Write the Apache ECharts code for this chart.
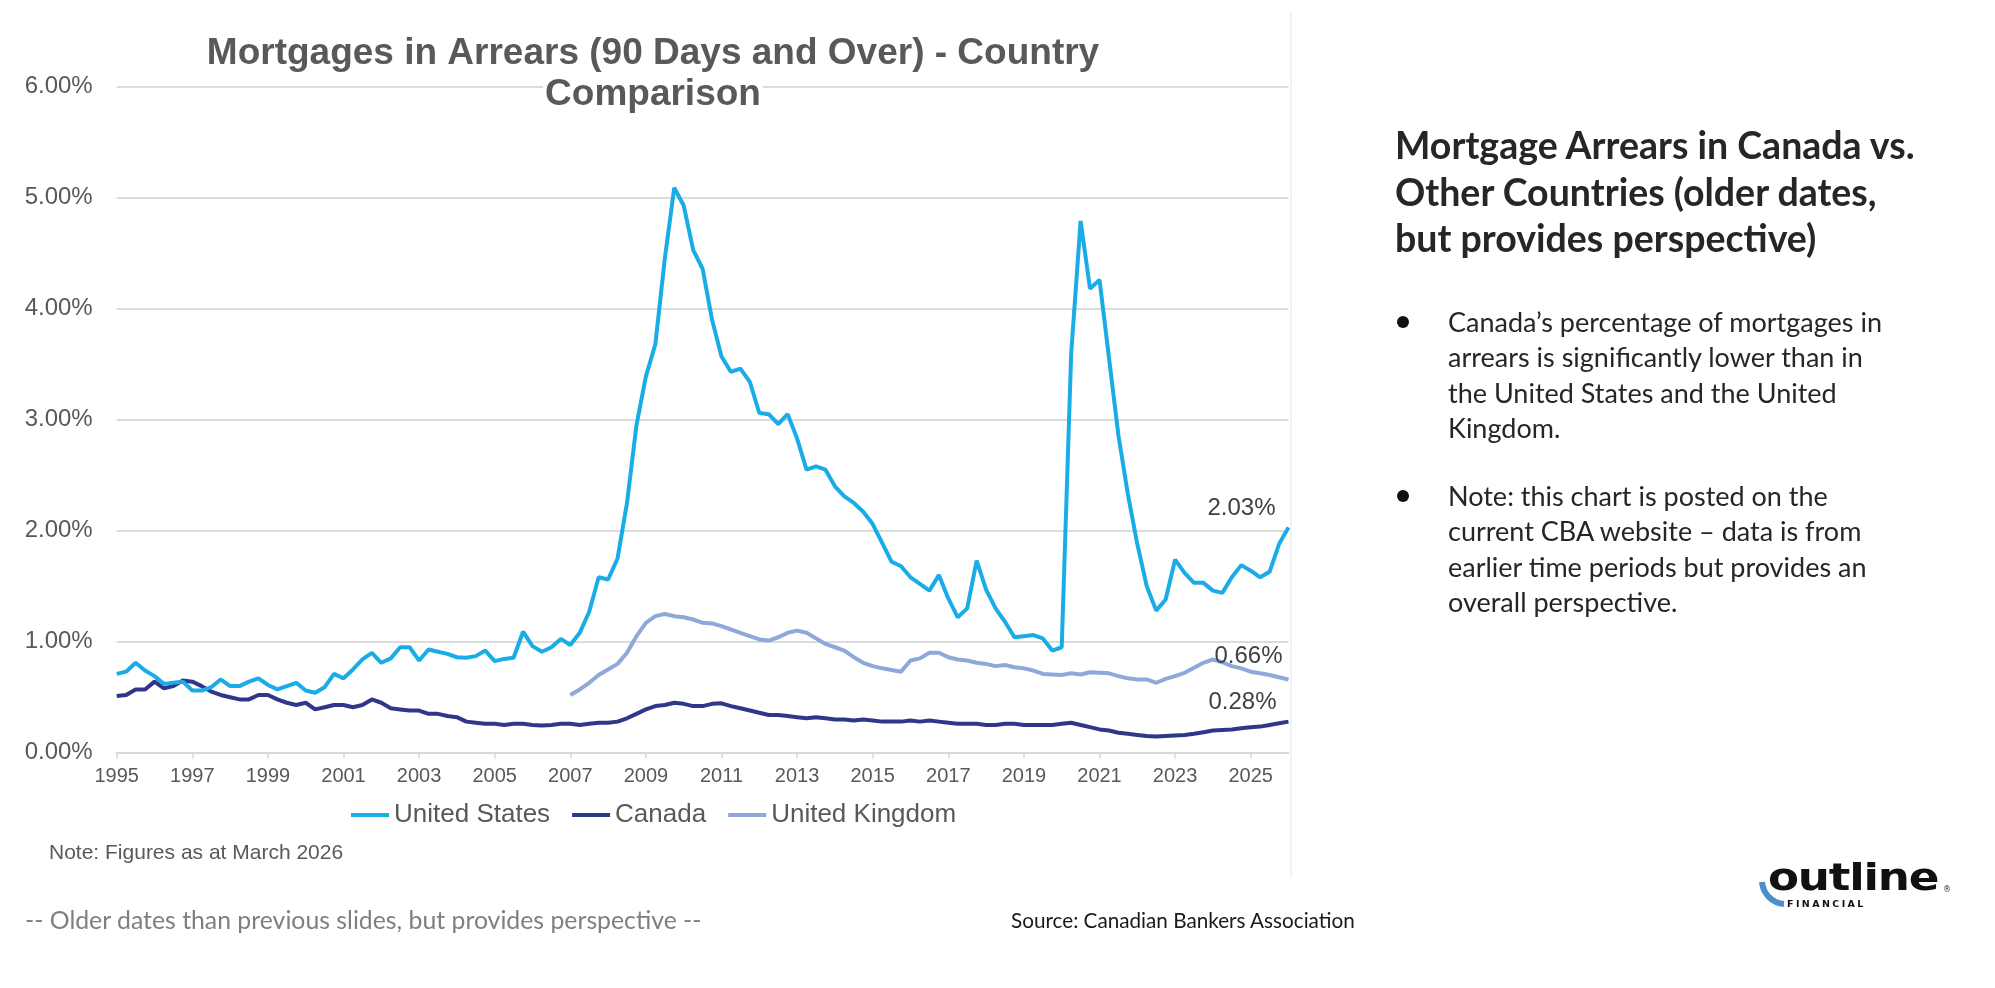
<!DOCTYPE html>
<html>
<head>
<meta charset="utf-8">
<script src="https://cdn.jsdelivr.net/npm/echarts@6/dist/echarts.min.js"></script>
<style>
  html, body { margin: 0; padding: 0; background: #ffffff; }
  #wrap { position: relative; width: 1995px; height: 988px; overflow: hidden; background: #fff; }
  #chart { position: absolute; left: 0; top: 0; width: 1995px; height: 988px; }
  .txt { position: absolute; font-family: Lato, "Open Sans", sans-serif; white-space: nowrap; }
  #heading { left: 1395px; top: 122px; font-size: 37.5px; font-weight: 700; line-height: 46.5px; color: #262626; }
  .bul { left: 1448px; font-size: 27px; line-height: 35.3px; color: #262626; }
  .dot { position: absolute; width: 12px; height: 12px; border-radius: 50%; background: #111; }
  #foot1 { left: 25px; top: 905px; font-size: 24.8px; color: #7f7f7f; }
  #foot2 { left: 1011px; top: 908px; font-size: 20.7px; color: #1a1a1a; }
</style>
</head>
<body>
<div id="wrap">
  <div id="chart"></div>
  <div class="txt" id="heading">Mortgage Arrears in Canada vs.<br>Other Countries (older dates,<br>but provides perspective)</div>
  <div class="dot" style="left:1397px; top:316px;"></div>
  <div class="txt bul" style="top:304px;">Canada’s percentage of mortgages in<br>arrears is significantly lower than in<br>the United States and the United<br>Kingdom.</div>
  <div class="dot" style="left:1397px; top:490px;"></div>
  <div class="txt bul" style="top:478px;">Note: this chart is posted on the<br>current CBA website – data is from<br>earlier time periods but provides an<br>overall perspective.</div>
  <div class="txt" id="foot1">-- Older dates than previous slides, but provides perspective --</div>
  <div class="txt" id="foot2">Source: Canadian Bankers Association</div>
  <svg style="position:absolute; left:1740px; top:840px;" width="250" height="80">
    <path d="M 22 42 A 24 24 0 0 0 44 64" fill="none" stroke="#4d8fca" stroke-width="6"/>
    <text x="28" y="50" font-family="DejaVu Sans" font-weight="700" font-size="38" fill="#111" transform="translate(28,0) scale(1.19,1) translate(-28,0)" letter-spacing="-1">outline</text>
    <text x="203" y="52" font-family="DejaVu Sans" font-size="8" fill="#333">®</text>
    <text x="47" y="67" font-family="DejaVu Sans" font-weight="700" font-size="9.5" letter-spacing="2.4" fill="#111">FINANCIAL</text>
  </svg>
</div>
<script>
// ---- data (quarterly, 1995 Q1 .. 2026 Q1) ----
const startYear = 1995;
const endYear = 2026;
const seriesNames = ['United States', 'Canada', 'United Kingdom'];

const usValues = [
  0.71, 0.73, 0.81, 0.74,   // 1995
  0.69, 0.62, 0.63, 0.64,   // 1996
  0.56, 0.56, 0.59, 0.66,   // 1997
  0.60, 0.60, 0.64, 0.67,   // 1998
  0.61, 0.57, 0.60, 0.63,   // 1999
  0.56, 0.54, 0.59, 0.71,   // 2000
  0.67, 0.75, 0.84, 0.90,   // 2001
  0.81, 0.85, 0.95, 0.95,   // 2002
  0.83, 0.93, 0.91, 0.89,   // 2003
  0.86, 0.855, 0.87, 0.92,  // 2004
  0.825, 0.845, 0.855, 1.09,// 2005
  0.96, 0.91, 0.95, 1.025,  // 2006
  0.97, 1.08, 1.27, 1.58,   // 2007
  1.56, 1.75, 2.25, 2.95,   // 2008
  3.39, 3.68, 4.45, 5.09,   // 2009
  4.93, 4.53, 4.36, 3.90,   // 2010
  3.57, 3.43, 3.46, 3.34,   // 2011
  3.06, 3.05, 2.96, 3.05,   // 2012
  2.83, 2.55, 2.58, 2.55,   // 2013
  2.40, 2.31, 2.25, 2.17,   // 2014
  2.06, 1.89, 1.72, 1.68,   // 2015
  1.58, 1.52, 1.46, 1.60,   // 2016
  1.39, 1.22, 1.30, 1.73,   // 2017
  1.47, 1.30, 1.18, 1.04,   // 2018
  1.05, 1.06, 1.03, 0.92,   // 2019
  0.95, 3.59, 4.79, 4.18,   // 2020
  4.26, 3.56, 2.86, 2.33,   // 2021
  1.88, 1.50, 1.28, 1.38,   // 2022
  1.74, 1.62, 1.53, 1.53,   // 2023
  1.46, 1.44, 1.58, 1.69,   // 2024
  1.64, 1.58, 1.63, 1.88,   // 2025
  2.03                      // 2026 Q1
];

const canadaValues = [
  0.51, 0.52, 0.57, 0.57,   // 1995
  0.64, 0.58, 0.60, 0.65,   // 1996
  0.64, 0.60, 0.55, 0.52,   // 1997
  0.50, 0.48, 0.48, 0.52,   // 1998
  0.52, 0.48, 0.45, 0.43,   // 1999
  0.45, 0.39, 0.41, 0.43,   // 2000
  0.43, 0.41, 0.43, 0.48,   // 2001
  0.45, 0.40, 0.39, 0.38,   // 2002
  0.38, 0.35, 0.35, 0.33,   // 2003
  0.32, 0.28, 0.27, 0.26,   // 2004
  0.26, 0.25, 0.26, 0.26,   // 2005
  0.25, 0.245, 0.25, 0.26,  // 2006
  0.26, 0.25, 0.26, 0.27,   // 2007
  0.27, 0.28, 0.31, 0.35,   // 2008
  0.39, 0.42, 0.43, 0.45,   // 2009
  0.44, 0.42, 0.42, 0.44,   // 2010
  0.445, 0.42, 0.40, 0.38,  // 2011
  0.36, 0.34, 0.34, 0.33,   // 2012
  0.32, 0.31, 0.32, 0.31,   // 2013
  0.30, 0.30, 0.29, 0.30,   // 2014
  0.29, 0.28, 0.28, 0.28,   // 2015
  0.29, 0.28, 0.29, 0.28,   // 2016
  0.27, 0.26, 0.26, 0.26,   // 2017
  0.25, 0.25, 0.26, 0.26,   // 2018
  0.25, 0.25, 0.25, 0.25,   // 2019
  0.26, 0.27, 0.25, 0.23,   // 2020
  0.21, 0.20, 0.18, 0.17,   // 2021
  0.16, 0.15, 0.145, 0.15,  // 2022
  0.155, 0.16, 0.17, 0.185, // 2023
  0.20, 0.205, 0.21, 0.22,  // 2024
  0.23, 0.235, 0.25, 0.265, // 2025
  0.28                      // 2026 Q1
];

// UK series starts in 2007 Q1
const ukStart = '2007 Q1';
const ukValues = [
  0.52, 0.57, 0.63, 0.70,   // 2007
  0.75, 0.80, 0.90, 1.05,   // 2008
  1.17, 1.23, 1.25, 1.23,   // 2009
  1.22, 1.20, 1.17, 1.165,  // 2010
  1.14, 1.11, 1.08, 1.05,   // 2011
  1.02, 1.01, 1.04, 1.08,   // 2012
  1.10, 1.08, 1.03, 0.98,   // 2013
  0.95, 0.92, 0.86, 0.81,   // 2014
  0.78, 0.76, 0.745, 0.73,  // 2015
  0.83, 0.85, 0.90, 0.90,   // 2016
  0.86, 0.84, 0.83, 0.81,   // 2017
  0.80, 0.78, 0.79, 0.77,   // 2018
  0.76, 0.74, 0.71, 0.705,  // 2019
  0.70, 0.715, 0.705, 0.725,// 2020
  0.72, 0.715, 0.69, 0.67,  // 2021
  0.66, 0.66, 0.63, 0.665,  // 2022
  0.69, 0.72, 0.765, 0.81,  // 2023
  0.84, 0.815, 0.78, 0.76,  // 2024
  0.73, 0.715, 0.70, 0.68,  // 2025
  0.66                      // 2026 Q1
];

const yTicks = [0, 1, 2, 3, 4, 5, 6];

// ---- build categories ----
const quarters = [];
for (let y = startYear; y <= endYear; y++) {
  for (let q = 1; q <= 4; q++) {
    if (y === endYear && q > 1) break;
    quarters.push(y + ' Q' + q);
  }
}
const ukOffset = quarters.indexOf(ukStart);
const ukData = quarters.map((c, i) => (i < ukOffset ? null : ukValues[i - ukOffset]));

const colors = { us: '#1aace6', ca: '#30368a', uk: '#8ea8da' };

function withEndLabel(arr, offset) {
  return arr.map((v, i) => i === arr.length - 1 ? {
    value: v,
    label: {
      show: true, position: 'top', offset: offset,
      formatter: p => p.value.toFixed(2) + '%',
      fontFamily: 'Liberation Sans', fontSize: 24, color: '#404040'
    }
  } : v);
}

const showIdx = (i) => i % 8 === 0;

const chart = echarts.init(document.getElementById('chart'), null, { renderer: 'canvas' });
chart.setOption({
  animation: false,
  backgroundColor: '#ffffff',
  grid: { left: 116.7, right: 706.5, top: 86.7, bottom: 235.3 },
  legend: {
    data: seriesNames,
    left: 351, top: 802, padding: 0,
    icon: 'rect', itemWidth: 38, itemHeight: 4, itemGap: 22,
    textStyle: { fontFamily: 'Liberation Sans', fontSize: 26, color: '#595959' }
  },
  xAxis: {
    type: 'category', data: quarters, boundaryGap: false,
    axisLine: { show: true, lineStyle: { color: '#d9d9d9', width: 2 } },
    axisTick: { show: true, interval: showIdx, length: 6, lineStyle: { color: '#d9d9d9', width: 1.5 } },
    axisLabel: {
      interval: showIdx, margin: 14,
      formatter: v => v.slice(0, 4),
      fontFamily: 'Liberation Sans', fontSize: 20, color: '#595959'
    },
    splitLine: { show: false }
  },
  yAxis: {
    type: 'value', min: yTicks[0], max: yTicks[yTicks.length - 1], interval: 1,
    axisLine: { show: false }, axisTick: { show: false },
    axisLabel: {
      margin: 24, formatter: v => v.toFixed(2) + '%',
      fontFamily: 'Liberation Sans', fontSize: 24, color: '#595959'
    },
    splitLine: { show: true, lineStyle: { color: '#dcdcdc', width: 2 } }
  },
  series: [
    {
      name: seriesNames[0], type: 'line', data: withEndLabel(usValues, [-47, -2]),
      symbol: 'circle', symbolSize: 0, showAllSymbol: true,
      lineStyle: { color: colors.us, width: 4 }, itemStyle: { color: colors.us },
      emphasis: { disabled: true }, z: 4
    },
    {
      name: seriesNames[1], type: 'line', data: withEndLabel(canadaValues, [-46, -2]),
      symbol: 'circle', symbolSize: 0, showAllSymbol: true,
      lineStyle: { color: colors.ca, width: 4 }, itemStyle: { color: colors.ca },
      emphasis: { disabled: true }, z: 3
    },
    {
      name: seriesNames[2], type: 'line', data: withEndLabel(ukData, [-40, -6]),
      symbol: 'circle', symbolSize: 0, showAllSymbol: true, connectNulls: false,
      lineStyle: { color: colors.uk, width: 4 }, itemStyle: { color: colors.uk },
      emphasis: { disabled: true }, z: 2
    }
  ],
  graphic: [
    {
      type: 'text', x: 653, y: 53.5, z: 10,
      style: {
        text: 'Mortgages in Arrears (90 Days and Over) - Country',
        textAlign: 'center', textVerticalAlign: 'middle',
        fontFamily: 'Liberation Sans', fontWeight: 'bold', fontSize: 37,
        fill: '#595959'
      }
    },
    {
      type: 'text', x: 653, y: 94.5, z: 10,
      style: {
        text: 'Comparison',
        textAlign: 'center', textVerticalAlign: 'middle',
        fontFamily: 'Liberation Sans', fontWeight: 'bold', fontSize: 37,
        fill: '#595959', backgroundColor: '#ffffff', padding: [0, 2, 0, 2]
      }
    },
    {
      type: 'text', x: 49, y: 853,
      style: {
        text: 'Note: Figures as at March 2026', textVerticalAlign: 'middle',
        fontFamily: 'Liberation Sans', fontSize: 21, fill: '#595959'
      }
    },
    {
      type: 'line', shape: { x1: 1291, y1: 12, x2: 1291, y2: 878 },
      style: { stroke: '#eeeeee', lineWidth: 1.5 }
    }
  ]
});
</script>
</body>
</html>
